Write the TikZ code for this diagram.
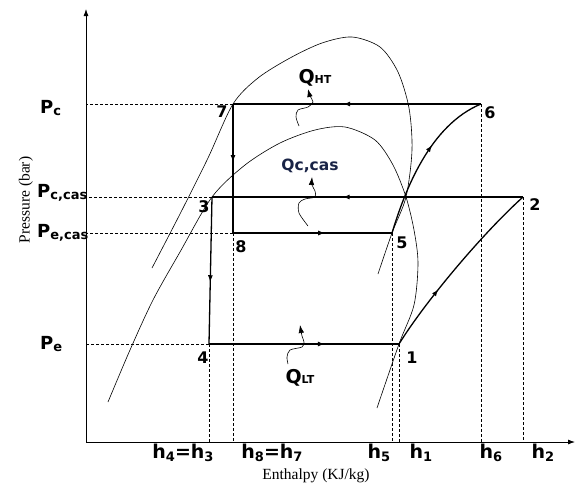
\documentclass[tikz,border=0pt]{standalone}
\usepackage{fontspec}
\setmainfont{Liberation Serif}
\newfontfamily\lblfont{DejaVu Sans}
\usepackage{tikz}
\usetikzlibrary{
    arrows.meta,
    positioning,
    decorations.markings
}
\definecolor{qnavy}{RGB}{25,35,70}
\newcommand{\lowidx}[1]{\raisebox{-0.3ex}{\fontsize{13}{13}\selectfont #1}}
\newcommand{\tinyidx}[1]{{\fontsize{11}{11}\selectfont #1}}

\begin{document}
\begin{tikzpicture}[
    x=1pt, y=-1pt,
    >=Latex,
    axisline/.style={draw, line width=0.8pt, -{Latex[length=7pt,width=5pt]}},
    cycleline/.style={draw, line width=1.3pt},
    flow/.style={
        cycleline,
        postaction={decorate},
        decoration={markings, mark=at position #1 with {\arrow{Latex[length=7pt,width=5pt]}}}
    },
    dome/.style={draw, line width=0.6pt},
    guide/.style={draw, line width=0.6pt, dash pattern=on 3pt off 2pt},
    heat/.style={draw, line width=0.6pt, -{Latex[length=8pt,width=5.5pt]}},
    statelabel/.style={font=\lblfont\bfseries\fontsize{16}{16}\selectfont, inner sep=0pt, anchor=base},
    plabel/.style={font=\lblfont\bfseries\fontsize{18}{18}\selectfont, inner sep=0pt, anchor=base west},
    hlabel/.style={font=\lblfont\bfseries\fontsize{19}{19}\selectfont, inner sep=0pt, anchor=base},
    qlabel/.style={font=\lblfont\bfseries\fontsize{19}{19}\selectfont, inner sep=0pt, anchor=base},
    axistitle/.style={font=\fontsize{15.5}{16}\selectfont, inner sep=0pt}
]
\useasboundingbox (0,0) rectangle (579,485);

% State points
\coordinate (st1) at (399,344);
\coordinate (st2) at (523,197);
\coordinate (st3) at (212,197);
\coordinate (st4) at (209,344);
\coordinate (st5) at (392,233);
\coordinate (st6) at (481,104);
\coordinate (st7) at (233,104);
\coordinate (st8) at (233,233);
\coordinate (org) at (86,442);
\coordinate (ytip) at (86,9);
\coordinate (xtip) at (575,442);

% Axes
\draw[axisline] (org) -- (ytip);
\draw[axisline] (org) -- (xtip);

% Saturation domes
\draw[dome] plot[smooth] coordinates {(152,268) (180,214) (208,158) (st7) (258,78) (290,58) (322,43) (352,37) (380,47) (398,72) (409,108) (412,150) (406,197) (st5) (378,274)};
\draw[dome] plot[smooth] coordinates {(108,402) (130,350) (153,300) (180,252) (st3) (245,165) (280,143) (315,130) (345,127) (375,140) (393,165) (406,197) (414,230) (418,263) (414,305) (st1) (377,408)};

% Guide lines
\draw[guide] (st7) -- (st7 -| org);
\draw[guide] (st3) -- (st3 -| org);
\draw[guide] (st8) -- (st8 -| org);
\draw[guide] (st4) -- (st4 -| org);
\draw[guide] (st4) -- (st4 |- org);
\draw[guide] (st8) -- (st8 |- org);
\draw[guide] (st5) -- (st5 |- org);
\draw[guide] (st1) -- (st1 |- org);
\draw[guide] (st6) -- (st6 |- org);
\draw[guide] (st2) -- (st2 |- org);

% High temperature cycle
\draw[flow=0.556] (st6) -- (st7);
\draw[flow=0.45] (st7) -- (st8);
\draw[flow=0.58] (st8) -- (st5);
\draw[flow=0.6] (st5) .. controls (405,190) and (430,125) .. (st6);

% Low temperature cycle
\draw[flow=0.58] (st2) -- (st3);
\draw[flow=0.58] (st3) -- (st4);
\draw[flow=0.61] (st4) -- (st1);
\draw[flow=0.35] (st1) .. controls (425,302) and (482,234) .. (st2);

% State labels
\node[statelabel] (n1) at (412,363) {1};
\node[statelabel] (n2) at (535,210) {2};
\node[statelabel] (n3) at (204,212) {3};
\node[statelabel] (n4) at (203,363) {4};
\node[statelabel] (n5) at (402,248) {5};
\node[statelabel] (n6) at (490,118) {6};
\node[statelabel] (n7) at (222,117) {7};
\node[statelabel] (n8) at (241,252) {8};

% Pressure levels
\node[plabel] (pc) at (40,113) {P\lowidx{c}};
\node[plabel] (pccas) at (37,197) {P\lowidx{c,cas}};
\node[plabel] (pecas) at (37,237) {P\lowidx{e,cas}};
\node[plabel] (pe) at (40,349) {P\lowidx{e}};

% Enthalpy levels
\node[hlabel] (h43) at (183,458) {h\lowidx{4}=h\lowidx{3}};
\node[hlabel] (h87) at (272,458) {h\lowidx{8}=h\lowidx{7}};
\node[hlabel] (h5) at (379,458) {h\lowidx{5}};
\node[hlabel] (h1) at (421,458) {h\lowidx{1}};
\node[hlabel] (h6) at (491,458) {h\lowidx{6}};
\node[hlabel] (h2) at (543,458) {h\lowidx{2}};

% Axis titles
\node[axistitle, anchor=base] (enth) at (316,479) {Enthalpy (KJ/kg)};
\node[axistitle, rotate=90] (pres) at (26,200) {Pressure (bar)};

% Heat flows
\node[qlabel] (qht) at (315,83) {Q\tinyidx{HT}};
\node[qlabel, text=qnavy, font=\lblfont\bfseries\fontsize{15.5}{16}\selectfont] (qccas) at (310,170) {Qc,cas};
\node[qlabel] (qlt) at (300,383) {Q\tinyidx{LT}};

\coordinate (htfoot) at (299,126);
\coordinate (casfoot) at (308,226);
\coordinate (lttip) at (300,325);

\draw[heat] plot[smooth] coordinates {(htfoot) (296,117) (298,110) (308,107) (313,102) (310,96) (308,89)};
\draw[heat] plot[smooth] coordinates {(casfoot) (299,213) (299,203) (305,199) (315,197) (315,191) (312,185) (312,177)};
\draw[heat] plot[smooth] coordinates {(288,364) (287,357) (290,350) (302,347) (304,342) (302,336) (lttip)};

\end{tikzpicture}
\end{document}
